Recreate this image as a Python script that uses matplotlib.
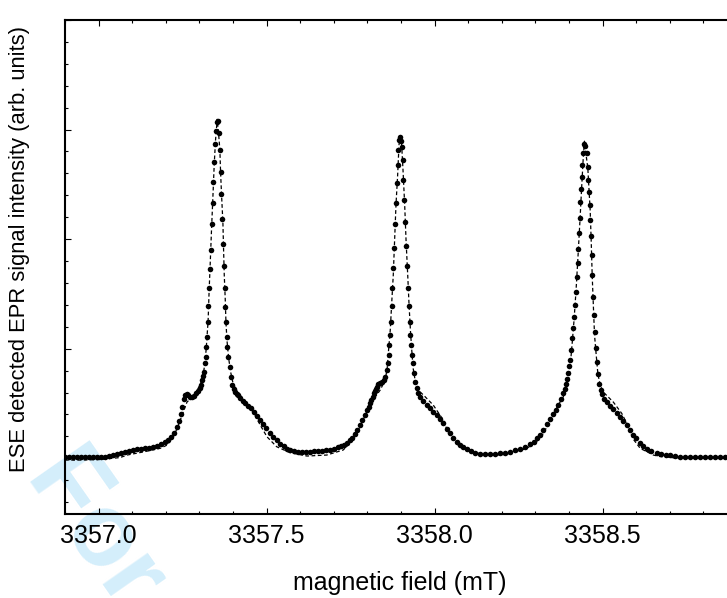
import matplotlib
matplotlib.use('agg')
import matplotlib.pyplot as plt
from matplotlib.ticker import MultipleLocator, FormatStrFormatter, NullFormatter

plt.rcParams['font.family'] = ['Liberation Sans', 'DejaVu Sans']

# measured ESE-detected spectrum (dots), field in mT, intensity in arb. units
exp_field = [
    3356.900, 3356.912, 3356.924, 3356.936, 3356.948, 3356.960, 3356.972, 3356.984, 3356.996, 3357.007,
    3357.019, 3357.031, 3357.043, 3357.055, 3357.067,
    3357.079, 3357.091, 3357.103, 3357.115, 3357.126, 3357.138, 3357.150, 3357.162, 3357.174, 3357.186,
    3357.198, 3357.207, 3357.216, 3357.225, 3357.232, 3357.238, 3357.244, 3357.249, 3357.253, 3357.257,
    3357.262, 3357.266, 3357.272, 3357.278, 3357.284, 3357.290, 3357.296, 3357.302, 3357.305, 3357.309,
    3357.312, 3357.314, 3357.317, 3357.319, 3357.321, 3357.323, 3357.325, 3357.327, 3357.329, 3357.332,
    3357.334, 3357.337, 3357.339, 3357.341, 3357.344, 3357.347, 3357.349, 3357.351, 3357.354,
    3357.357, 3357.360, 3357.363, 3357.365, 3357.368, 3357.371, 3357.373, 3357.375, 3357.377, 3357.379,
    3357.382, 3357.383, 3357.386, 3357.390, 3357.393, 3357.398, 3357.402, 3357.406, 3357.411, 3357.416,
    3357.421, 3357.429, 3357.436, 3357.445, 3357.454, 3357.463, 3357.472, 3357.481, 3357.490, 3357.499,
    3357.509, 3357.519, 3357.530, 3357.540, 3357.551, 3357.561, 3357.571, 3357.582, 3357.594, 3357.606,
    3357.618, 3357.629, 3357.641, 3357.653, 3357.665, 3357.677, 3357.689, 3357.701, 3357.713, 3357.722,
    3357.731, 3357.740, 3357.749, 3357.754, 3357.762, 3357.769, 3357.777, 3357.784, 3357.792, 3357.799,
    3357.804, 3357.808, 3357.812, 3357.817, 3357.820, 3357.823, 3357.826, 3357.829, 3357.833, 3357.838,
    3357.843, 3357.848, 3357.853, 3357.858, 3357.860, 3357.863, 3357.865, 3357.868, 3357.870, 3357.872,
    3357.874, 3357.877, 3357.879, 3357.882, 3357.884, 3357.887, 3357.890, 3357.892, 3357.895, 3357.898,
    3357.900, 3357.902, 3357.905, 3357.907, 3357.909, 3357.912, 3357.915, 3357.918, 3357.921, 3357.923,
    3357.926, 3357.928, 3357.930, 3357.933, 3357.935, 3357.939, 3357.942, 3357.947, 3357.952, 3357.957,
    3357.966, 3357.977, 3357.987, 3357.996, 3358.007, 3358.016, 3358.025, 3358.036, 3358.046, 3358.056,
    3358.066, 3358.076, 3358.086, 3358.097, 3358.109, 3358.121, 3358.135, 3358.150, 3358.165, 3358.180,
    3358.195, 3358.210, 3358.225, 3358.240, 3358.254, 3358.269, 3358.284, 3358.295, 3358.305, 3358.314,
    3358.323, 3358.335, 3358.344, 3358.353, 3358.360, 3358.368, 3358.375, 3358.382, 3358.387, 3358.391,
    3358.395, 3358.398, 3358.401, 3358.403, 3358.406, 3358.410, 3358.413, 3358.416, 3358.419, 3358.421,
    3358.424, 3358.426, 3358.428, 3358.430, 3358.433, 3358.434, 3358.436, 3358.438, 3358.440, 3358.443,
    3358.446,
    3358.449, 3358.453, 3358.456, 3358.458, 3358.460, 3358.462, 3358.463, 3358.465, 3358.467, 3358.468,
    3358.471, 3358.473, 3358.476, 3358.480, 3358.483, 3358.486, 3358.490, 3358.494, 3358.498, 3358.504,
    3358.512, 3358.522, 3358.531, 3358.542, 3358.552, 3358.561, 3358.572, 3358.582, 3358.591, 3358.600,
    3358.612, 3358.621, 3358.632, 3358.644, 3358.661, 3358.674, 3358.689, 3358.701, 3358.716, 3358.731,
    3358.746, 3358.760, 3358.775, 3358.790, 3358.805, 3358.820, 3358.835, 3358.850, 3358.865, 3358.880,
]
exp_int = [
    0.012, 0.012, 0.012, 0.012, 0.012, 0.012, 0.012, 0.012, 0.012, 0.012,
    0.016, 0.021, 0.030, 0.039, 0.048,
    0.057, 0.067, 0.076, 0.085, 0.089, 0.094, 0.098, 0.103, 0.117, 0.130,
    0.149, 0.167, 0.194, 0.231, 0.285, 0.340, 0.404, 0.471, 0.541, 0.577,
    0.586, 0.577, 0.564, 0.559, 0.573, 0.596, 0.618, 0.646, 0.668, 0.714,
    0.751, 0.790, 0.866, 0.927, 1.012, 1.109, 1.240, 1.392, 1.550, 1.726,
    1.900, 2.134, 2.326, 2.523, 2.705, 2.864, 2.985, 3.067, 3.081,
    2.967, 2.812, 2.611, 2.410, 2.182, 1.954, 1.754, 1.553, 1.383, 1.246,
    1.109, 1.018, 0.927, 0.835, 0.744, 0.668, 0.637, 0.607, 0.591, 0.577,
    0.550, 0.527, 0.504, 0.482, 0.459, 0.427, 0.390, 0.349, 0.313, 0.276,
    0.235, 0.197, 0.167, 0.135, 0.108, 0.085, 0.073, 0.065, 0.060, 0.059,
    0.060, 0.062, 0.064, 0.067, 0.071, 0.076, 0.080, 0.089, 0.103, 0.112,
    0.126, 0.140, 0.167, 0.190, 0.222, 0.258, 0.304, 0.349, 0.395, 0.440,
    0.472, 0.504, 0.532, 0.562, 0.593, 0.614, 0.637, 0.653, 0.678, 0.687,
    0.696, 0.714, 0.741, 0.805, 0.869, 0.942, 1.033, 1.124, 1.243, 1.389,
    1.553, 1.736, 1.918, 2.137, 2.328, 2.511, 2.675, 2.812, 2.903, 2.930,
    2.894, 2.839, 2.720, 2.538, 2.356, 2.155, 1.936, 1.754, 1.553, 1.389,
    1.243, 1.124, 1.033, 0.942, 0.866, 0.775, 0.699, 0.638, 0.596, 0.562,
    0.527, 0.486, 0.459, 0.427, 0.395, 0.363, 0.322, 0.267, 0.231, 0.190,
    0.153, 0.126, 0.106, 0.085, 0.067, 0.053, 0.044, 0.039, 0.039, 0.044,
    0.048, 0.053, 0.062, 0.076, 0.089, 0.103, 0.130, 0.151, 0.185, 0.217,
    0.258, 0.313, 0.358, 0.404, 0.445, 0.486, 0.541, 0.596, 0.632, 0.678,
    0.723, 0.775, 0.842, 0.896, 0.988, 1.094, 1.186, 1.291, 1.398, 1.514,
    1.656, 1.778, 1.909, 2.052, 2.189, 2.335, 2.456, 2.568, 2.675, 2.782,
    2.866,
    2.853, 2.782, 2.659, 2.538, 2.431, 2.310, 2.173, 2.027, 1.854, 1.672,
    1.474, 1.307, 1.155, 1.003, 0.878, 0.769, 0.678, 0.623, 0.586, 0.545,
    0.513, 0.482, 0.450, 0.418, 0.379, 0.345, 0.304, 0.258, 0.217, 0.181,
    0.140, 0.112, 0.089, 0.071, 0.053, 0.039, 0.030, 0.026, 0.021, 0.016,
    0.012, 0.012, 0.012, 0.012, 0.012, 0.012, 0.012, 0.012, 0.012, 0.012,
]

# simulated spectrum (dashed line)
sim_field = [
    3356.900, 3356.945, 3357.004, 3357.064, 3357.085, 3357.124, 3357.153, 3357.183, 3357.204, 3357.222,
    3357.234, 3357.243, 3357.254, 3357.263, 3357.278, 3357.290, 3357.302, 3357.311, 3357.317, 3357.321,
    3357.326, 3357.329, 3357.332, 3357.336, 3357.341, 3357.344, 3357.348, 3357.353, 3357.357, 3357.361,
    3357.363, 3357.366, 3357.370, 3357.372, 3357.374, 3357.377, 3357.379, 3357.382, 3357.387, 3357.393,
    3357.400, 3357.411, 3357.421, 3357.441, 3357.460, 3357.481, 3357.501, 3357.530, 3357.570, 3357.620,
    3357.679, 3357.728, 3357.757, 3357.772, 3357.787, 3357.802, 3357.817, 3357.838, 3357.853, 3357.859,
    3357.863, 3357.868, 3357.872, 3357.877, 3357.881, 3357.885, 3357.890, 3357.894, 3357.897, 3357.902,
    3357.906, 3357.911, 3357.915, 3357.920, 3357.924, 3357.928, 3357.932, 3357.936, 3357.942, 3357.951,
    3357.967, 3357.996, 3358.026, 3358.041, 3358.066, 3358.106, 3358.165, 3358.225, 3358.274, 3358.299,
    3358.317, 3358.334, 3358.350, 3358.368, 3358.383, 3358.398, 3358.403, 3358.409, 3358.415, 3358.421,
    3358.427, 3358.433, 3358.438, 3358.442, 3358.446, 3358.451, 3358.456, 3358.460, 3358.463, 3358.466,
    3358.469, 3358.473, 3358.476, 3358.481, 3358.486, 3358.493, 3358.502, 3358.532, 3358.557, 3358.577,
    3358.591, 3358.612, 3358.651, 3358.671, 3358.731, 3358.909,
]
sim_int = [
    -0.016, -0.016, -0.011, 0.007, 0.030, 0.053, 0.071, 0.091, 0.121, 0.194,
    0.276, 0.349, 0.440, 0.513, 0.559, 0.605, 0.668, 0.760, 0.878, 1.033,
    1.261, 1.535, 1.763, 2.082, 2.447, 2.675, 2.903, 3.094, 2.967, 2.812,
    2.611, 2.401, 2.146, 1.900, 1.672, 1.444, 1.243, 1.079, 0.915, 0.787,
    0.687, 0.614, 0.577, 0.502, 0.422, 0.304, 0.197, 0.106, 0.051, 0.021,
    0.030, 0.076, 0.167, 0.249, 0.349, 0.450, 0.532, 0.623, 0.714, 0.824,
    0.988, 1.170, 1.398, 1.672, 1.991, 2.310, 2.584, 2.857, 2.949, 2.857,
    2.629, 2.310, 1.991, 1.672, 1.398, 1.170, 0.988, 0.824, 0.714, 0.623,
    0.577, 0.486, 0.349, 0.231, 0.130, 0.060, 0.026, 0.039, 0.091, 0.140,
    0.194, 0.285, 0.386, 0.486, 0.562, 0.684, 0.824, 1.033, 1.261, 1.535,
    1.854, 2.192, 2.492, 2.720, 2.894, 2.766, 2.648, 2.429, 2.265, 1.991,
    1.672, 1.353, 1.124, 0.942, 0.769, 0.668, 0.605, 0.513, 0.410, 0.288,
    0.176, 0.091, 0.030, 0.016, 0.000, 0.000,
]

fig = plt.figure(figsize=(7.27, 5.98), dpi=100)

# journal watermark, kept under the axes and the labels
fig.text(0.035, 0.205, 'For Peer Review', rotation=-55, rotation_mode='anchor',
         ha='left', va='baseline', fontsize=74, fontweight='bold', color='#d4eefb', zorder=-5)

ax = fig.add_axes([65 / 727, 84 / 598, 672 / 727, 494 / 598])
ax.set_facecolor('none')

ax.plot(sim_field, sim_int, color='black', lw=0.9, dashes=(3, 2), zorder=2)
ax.plot(exp_field, exp_int, 'o', color='black', ms=4.0, mew=0, zorder=3)

ax.set_xlim(3356.9, 3358.9)
ax.set_ylim(-0.508, 4.0)

ax.xaxis.set_major_locator(MultipleLocator(0.5))
ax.xaxis.set_minor_locator(MultipleLocator(0.1))
ax.xaxis.set_major_formatter(FormatStrFormatter('%.1f'))
ax.yaxis.set_major_locator(MultipleLocator(1.0))
ax.yaxis.set_minor_locator(MultipleLocator(0.2))
ax.yaxis.set_major_formatter(NullFormatter())

ax.tick_params(which='both', direction='in', top=True, right=False, width=0.8)
ax.tick_params(which='major', length=4.5)
ax.tick_params(which='minor', length=2.5)
ax.tick_params(axis='x', labelsize=18, pad=7)

for side in ['left', 'top', 'bottom']:
    ax.spines[side].set_linewidth(1.5)
ax.spines['right'].set_visible(False)

fig.text(400 / 727, 8 / 598, 'magnetic field (mT)', fontsize=18, ha='center', va='baseline')
fig.text(20 / 727, (598 - 249) / 598, 'ESE detected EPR signal intensity (arb. units)',
         fontsize=15.8, rotation=90, ha='center', va='center')

plt.savefig('out.png', dpi=100)
